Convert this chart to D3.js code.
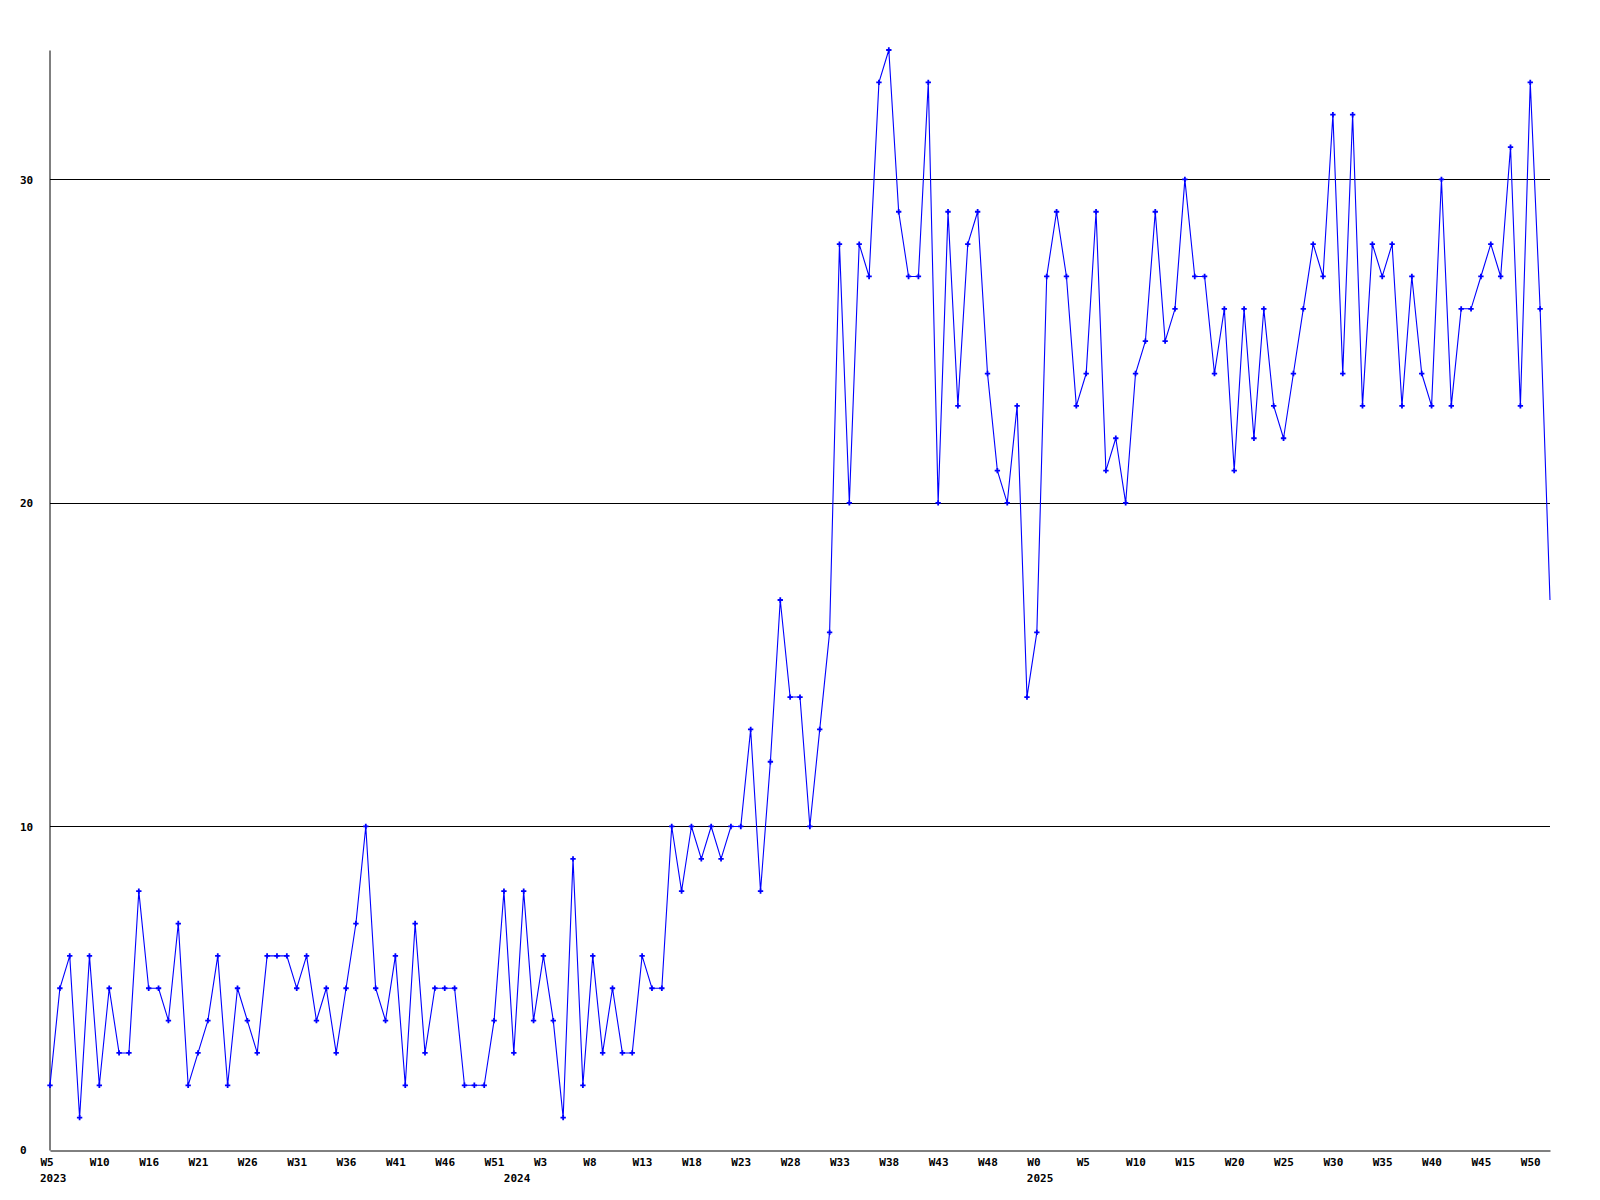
<!DOCTYPE html>
<html>
<head>
<meta charset="utf-8">
<script src="https://cdn.jsdelivr.net/npm/d3@7"></script>
<style>
  html, body { margin: 0; padding: 0; background: #ffffff; }
  svg { display: block; }
  .tick text, .lbl { font-family: "DejaVu Sans Mono", monospace; font-weight: bold; font-size: 11px; fill: #000; }
</style>
</head>
<body>
<svg id="chart" width="1600" height="1200"></svg>
<script>
// ---- data ----
const values = [
  2,5,6,1,6,2,5,3,3,8,5,5,4,7,2,3,4,6,2,5,4,3,6,6,6,5,6,4,5,3,5,7,10,
  5,4,6,2,7,3,5,5,5,2,2,2,4,8,3,8,4,6,4,1,9,2,6,3,5,3,3,6,5,5,10,8,
  10,9,10,9,10,10,13,8,12,17,14,14,10,13,16,
  28,20,28,27,33,34,29,27,27,33,20,29,23,28,29,24,21,20,23,14,16,27,29,27,
  23,24,29,21,22,20,24,25,29,25,26,30,27,27,
  24,26,21,26,22,26,23,22,24,26,28,27,32,24,32,23,28,27,
  28,23,27,24,23,30,23,26,26,27,28,27,31,23,33,26,17
];
const weekLabels = ["W5","W10","W16","W21","W26","W31","W36","W41","W46","W51",
  "W3","W8","W13","W18","W23","W28","W33","W38","W43","W48",
  "W0","W5","W10","W15","W20","W25","W30","W35","W40","W45","W50"];
const weekTickStep = 5;
const yearLabels = ["2023","2024","2025"];
const yearTickIdx = [0,47,100];
const yTicks = [0,10,20,30];
const yMax = 34;

// ---- layout ----
const svg = d3.select("#chart");
const mLeft = 50, mRight = 1550, mTop = 50, mBottom = 1150;

const x = d3.scaleLinear().domain([0, values.length - 1]).range([mLeft, mRight]);
const y = d3.scaleLinear().domain([0, yMax]).range([mBottom, mTop]);

// gridlines
svg.append("g").selectAll("line")
  .data(yTicks.filter(v => v > 0))
  .join("line")
  .attr("x1", mLeft).attr("x2", mRight)
  .attr("y1", d => Math.round(y(d)) + 0.5).attr("y2", d => Math.round(y(d)) + 0.5)
  .attr("stroke", "#000").attr("stroke-width", 1);

// y axis
const yAxis = svg.append("g")
  .attr("transform", `translate(${mLeft - 0.5},0)`)
  .call(d3.axisLeft(y).tickValues(yTicks).tickSize(0).tickSizeOuter(0).tickFormat(d3.format("d")));
yAxis.select(".domain").attr("stroke", "#000");
yAxis.selectAll(".tick text").attr("text-anchor", "start").attr("x", -29.5).attr("dy", "0.35em");

// x axis
const tickIdx = weekLabels.map((_, i) => i * weekTickStep);
const xAxis = svg.append("g")
  .attr("transform", `translate(0,${mBottom + 0.5})`)
  .call(d3.axisBottom(x).tickValues(tickIdx).tickSize(0).tickSizeOuter(0)
    .tickFormat((d, i) => weekLabels[i]));
xAxis.select(".domain").attr("stroke", "#000");
xAxis.selectAll(".tick text").attr("text-anchor", "start").attr("x", -10).attr("y", 15.5).attr("dy", 0);

// year labels
svg.append("g").selectAll("text")
  .data(yearLabels)
  .join("text")
  .attr("class", "lbl")
  .attr("x", (d, i) => x(yearTickIdx[i]) - 10)
  .attr("y", mBottom + 31.5)
  .text(d => d);

// line
const line = d3.line().x((d, i) => x(i)).y(d => y(d));
svg.append("path")
  .datum(values)
  .attr("d", line)
  .attr("fill", "none")
  .attr("stroke", "#0000ff")
  .attr("stroke-width", 1.1);

// markers
svg.append("clipPath").attr("id", "mclip")
  .append("rect").attr("x", 0).attr("y", 0).attr("width", mRight - 3).attr("height", 1200);
svg.append("g").attr("clip-path", "url(#mclip)")
  .selectAll("path")
  .data(values)
  .join("path")
  .attr("transform", (d, i) => `translate(${x(i)},${y(d)})`)
  .attr("d", d3.symbol(d3.symbolCross, 16))
  .attr("fill", "#0000ff");
</script>
</body>
</html>
